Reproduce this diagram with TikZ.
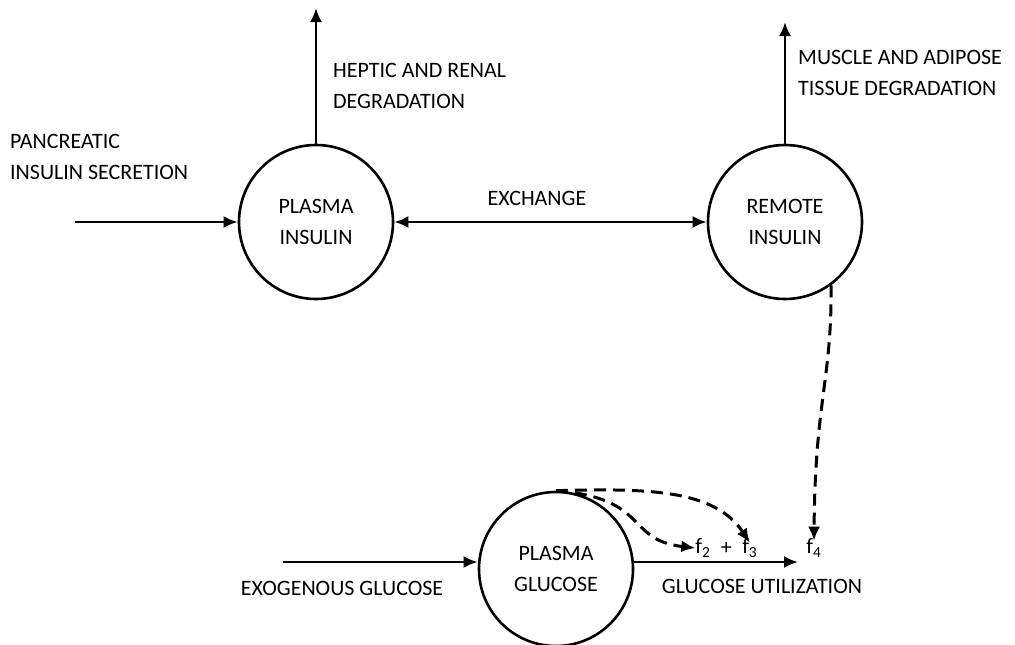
\documentclass[tikz,border=0pt]{standalone}
\usepackage{fontspec}
\setmainfont{Carlito}
\usepackage{tikz}
\usetikzlibrary{calc,positioning,arrows.meta}
\tikzset{
    pool/.style={
        draw,
        circle,
        line width=2.6pt,
        minimum size=154pt,
        align=center,
        inner sep=0pt
    },
    lbl/.style={
        align=left,
        inner sep=0pt,
        anchor=base west
    },
    flow/.style={
        line width=2.6pt,
        -{Latex[length=14pt,width=12pt]}
    },
    effect/.style={
        flow,
        line width=3pt,
        dash pattern=on 12pt off 7pt
    }
}

\begin{document}
\begin{tikzpicture}[x=1pt,y=-1pt,font=\fontsize{22}{31}\selectfont]
        \useasboundingbox (0,0) rectangle (1015,645);

        % compartments
        \node[pool] (PlasmaInsulin) at (316,222) {PLASMA\\INSULIN};
        \node[pool] (RemoteInsulin) at (785,222) {REMOTE\\INSULIN};
        \node[pool] (PlasmaGlucose) at (556,569) {PLASMA\\GLUCOSE};

        % free ends
        \coordinate (SecretionIn) at (75,222);
        \coordinate (HepticOut) at (316,8);
        \coordinate (MuscleOut) at (785,22);
        \coordinate (GlucoseIn) at (283,562);
        \coordinate (UtilOut) at (798,562);

        % f labels
        \node[inner sep=0pt] (f2) at (703,548) {f\textsubscript{2}};
        \node[inner sep=0pt,right=10pt of f2] (plus) {+};
        \node[inner sep=0pt,right=10pt of plus] (f3) {f\textsubscript{3}};
        \node[inner sep=0pt] (f4) at (814,548) {f\textsubscript{4}};

        % texts (base = last line)
        \node[lbl] (Pancreatic) at (10,179) {PANCREATIC\\INSULIN SECRETION};
        \node[lbl] (Heptic) at (333,108) {HEPTIC AND RENAL\\DEGRADATION};
        \node[lbl] (Muscle) at (798,95) {MUSCLE AND ADIPOSE\\TISSUE DEGRADATION};
        \node[inner sep=0pt] (Exchange) at (537,198) {EXCHANGE};
        \node[inner sep=0pt] (Exogenous) at (342,588) {EXOGENOUS GLUCOSE};
        \node[inner sep=0pt] (Utilization) at (762,586) {GLUCOSE UTILIZATION};

        % solid flows
        \draw[flow] (SecretionIn) -- (PlasmaInsulin.west);
        \draw[flow] (PlasmaInsulin.north) -- (HepticOut);
        \draw[flow] (RemoteInsulin.north) -- (MuscleOut);
        \draw[flow,{Latex[length=14pt,width=12pt]}-{Latex[length=14pt,width=12pt]}] (PlasmaInsulin.east) -- (RemoteInsulin.west);
        \draw[flow] (GlucoseIn) -- (GlucoseIn -| PlasmaGlucose.west);
        \draw[flow] (UtilOut -| PlasmaGlucose.east) -- (UtilOut);

        % dashed effects
        \draw[effect] (RemoteInsulin.-54) .. controls (832,380) and (815,400) .. ([yshift=-2pt]f4.north);
        \draw[effect] (PlasmaGlucose.north) .. controls (650,488) and (715,490) .. ([yshift=-4pt]f3.north);
        \draw[effect] (PlasmaGlucose.north) .. controls (650,498) and (625,540) .. (f2.west);
    \end{tikzpicture}
\end{document}
